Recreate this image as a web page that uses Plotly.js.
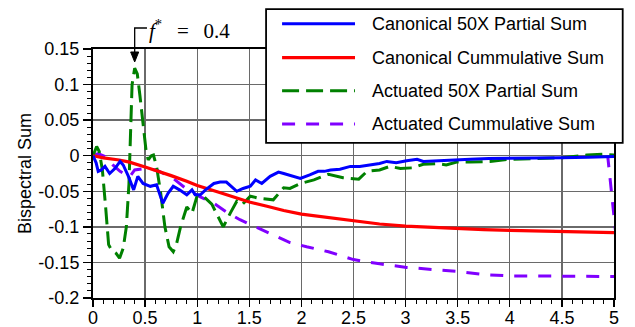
<!DOCTYPE html>
<html>
<head>
<meta charset="utf-8">
<script src="https://cdn.plot.ly/plotly-3.0.1.min.js"></script>
<style>html,body{margin:0;padding:0;background:#fff;}#chart{width:635px;height:327px;}</style>
</head>
<body>
<div id="chart"></div>
<script>
// ---- Data ----
var seriesNames = ['Canonical 50X Partial Sum', 'Canonical Cummulative Sum', 'Actuated 50X Partial Sum', 'Actuated Cummulative Sum'];

var canonPartialX = [0,0.03,0.05,0.08,0.115,0.16,0.21,0.26,0.29,0.34,0.39,0.43,0.48,0.55,0.61,0.67,0.72,0.77,0.83,0.90,0.95,0.98,1.03,1.08,1.16,1.22,1.28,1.33,1.38,1.44,1.51,1.56,1.62,1.70,1.78,1.83,1.88,1.94,1.99,2.08,2.16,2.22,2.28,2.37,2.47,2.56,2.66,2.75,2.82,2.91,3.01,3.11,3.17,3.30,3.39,3.52,3.62,3.80,4.00,4.25,4.50,4.75,5.00];
var canonPartialY = [0,-0.010,-0.022,-0.020,-0.015,-0.025,-0.018,-0.008,-0.013,-0.029,-0.048,-0.029,-0.039,-0.043,-0.041,-0.067,-0.053,-0.043,-0.048,-0.055,-0.048,-0.055,-0.055,-0.048,-0.039,-0.037,-0.037,-0.043,-0.050,-0.046,-0.043,-0.034,-0.039,-0.029,-0.023,-0.025,-0.027,-0.030,-0.032,-0.027,-0.022,-0.022,-0.020,-0.019,-0.015,-0.015,-0.013,-0.011,-0.008,-0.010,-0.007,-0.005,-0.008,-0.007,-0.006,-0.005,-0.005,-0.004,-0.004,-0.003,-0.003,-0.002,-0.001];

var canonCumX = [0,0.1,0.25,0.35,0.5,0.65,0.75,0.9,1.0,1.2,1.35,1.5,1.67,1.83,2.0,2.25,2.5,2.75,3.0,3.25,3.5,3.75,4.0,4.5,5.0];
var canonCumY = [0,-0.003,-0.006,-0.009,-0.016,-0.023,-0.028,-0.036,-0.042,-0.051,-0.058,-0.065,-0.071,-0.077,-0.082,-0.087,-0.092,-0.096,-0.099,-0.101,-0.103,-0.104,-0.105,-0.107,-0.108];

var actPartialX = [0,0.035,0.06,0.09,0.12,0.15,0.18,0.22,0.255,0.29,0.32,0.345,0.36,0.375,0.40,0.425,0.45,0.48,0.51,0.53,0.56,0.58,0.61,0.65,0.69,0.73,0.77,0.80,0.84,0.90,0.95,1.0,1.06,1.14,1.25,1.32,1.38,1.43,1.51,1.60,1.73,1.83,1.89,1.99,2.12,2.26,2.40,2.55,2.63,2.75,2.85,2.95,3.07,3.17,3.30,3.39,3.49,3.62,3.81,4.0,4.25,4.5,4.74,4.9,5.0];
var actPartialY = [0,0.013,0.006,-0.020,-0.070,-0.125,-0.133,-0.137,-0.144,-0.130,-0.100,-0.040,0.030,0.100,0.123,0.115,0.085,0.045,0.006,-0.006,0.000,0.001,-0.015,-0.053,-0.100,-0.128,-0.135,-0.125,-0.100,-0.072,-0.081,-0.056,-0.057,-0.068,-0.100,-0.080,-0.064,-0.069,-0.057,-0.060,-0.062,-0.045,-0.046,-0.039,-0.034,-0.026,-0.031,-0.033,-0.022,-0.020,-0.015,-0.018,-0.017,-0.012,-0.011,-0.013,-0.009,-0.009,-0.008,-0.005,-0.004,-0.003,0.001,0.002,0.001];

var actCumX = [0,0.05,0.115,0.19,0.26,0.31,0.35,0.40,0.49,0.61,0.68,0.77,0.90,1.03,1.16,1.28,1.41,1.57,1.73,1.89,2.05,2.16,2.26,2.50,2.75,3.01,3.25,3.52,3.75,4.0,4.25,4.48,4.75,4.93,5.06,4.94];
var actCumY = [0,0.003,-0.001,-0.013,-0.022,-0.027,-0.030,-0.020,-0.018,-0.020,-0.025,-0.032,-0.047,-0.058,-0.067,-0.079,-0.090,-0.101,-0.111,-0.122,-0.128,-0.132,-0.135,-0.146,-0.152,-0.157,-0.160,-0.163,-0.167,-0.169,-0.169,-0.169,-0.170,-0.170,-0.170,-0.001];

var xTickVals = [0,0.5,1,1.5,2,2.5,3,3.5,4,4.5,5];
var xTickText = ['0','0.5','1','1.5','2','2.5','3','3.5','4','4.5','5'];
var yTickVals = [-0.2,-0.15,-0.1,-0.05,0,0.05,0.1,0.15];
var yTickText = ['-0.2','-0.15','-0.1','-0.05','0','0.05','0.1','0.15'];

var markerX = 0.4;      // f* location (data x)

// ---- Styles ----
var colors = ['#0000ff', '#ff0000', '#008000', '#8000ff'];
var dashes = ['solid', 'solid', '17px,7px', '13px,11px'];
var widths = [3, 3.2, 3, 3];

var xs = [canonPartialX, canonCumX, actPartialX, actCumX];
var ys = [canonPartialY, canonCumY, actPartialY, actCumY];
var order = [3, 2, 1, 0];
var traces = order.map(function (i) {
  return {
    x: xs[i], y: ys[i], name: seriesNames[i], type: 'scatter', mode: 'lines',
    line: {color: colors[i], width: widths[i], dash: dashes[i]},
    showlegend: false
  };
});

var FONT = 'Liberation Sans, Arial, Helvetica, sans-serif';

// Legend built as shapes + text
var legX0 = 0.3322, legX1 = 1.0167, legY0 = 0.6229, legY1 = 1.1604;
var rowY = [1.1011, 0.9651, 0.8327, 0.6990];
var shapes = [{
  type: 'rect', xref: 'paper', yref: 'paper', x0: legX0, x1: legX1, y0: legY0, y1: legY1,
  fillcolor: '#ffffff', line: {color: '#000', width: 1.8}, layer: 'above'
}];
var annotations = [];
for (var k = 0; k < 4; k++) {
  shapes.push({type: 'line', xref: 'paper', yref: 'paper', x0: 0.3629, x1: 0.5029, y0: rowY[k], y1: rowY[k],
    line: {color: colors[k], width: widths[k], dash: dashes[k]}, layer: 'above'});
  annotations.push({xref: 'paper', yref: 'paper', x: 0.5316, y: rowY[k], xanchor: 'left', yanchor: 'middle',
    text: seriesNames[k], showarrow: false, font: {family: FONT, size: 18, color: '#000'}});
}
// f* marker: bent connector + arrowhead (paper coordinates)
var ax0 = markerX / 5, hookX = 0.1036, hookY = 1.0843, headBase = 0.988, tipY = 0.9478, hw = 0.0077;
shapes.push({type: 'path', xref: 'paper', yref: 'paper',
  path: 'M ' + hookX + ' ' + hookY + ' L ' + ax0 + ' ' + hookY + ' L ' + ax0 + ' ' + headBase,
  line: {color: '#000', width: 1.3}, layer: 'above'});
shapes.push({type: 'path', xref: 'paper', yref: 'paper',
  path: 'M ' + (ax0 - hw) + ' ' + headBase + ' L ' + (ax0 + hw) + ' ' + headBase + ' L ' + ax0 + ' ' + tipY + ' Z',
  fillcolor: '#000', line: {color: '#000', width: 1}, layer: 'above'});
annotations.push({xref: 'paper', yref: 'paper', x: hookX, y: 1.078, xanchor: 'left', yanchor: 'middle',
  text: '<i>f</i><sup>*</sup>\u2009\u2002=\u2002\u20090.4', showarrow: false,
  font: {family: 'Liberation Serif, Times New Roman, serif', size: 21, color: '#000'}});

var layout = {
  width: 635, height: 327,
  margin: {l: 93, r: 21, t: 49, b: 29},
  paper_bgcolor: '#fff', plot_bgcolor: '#fff',
  font: {family: FONT, size: 18, color: '#000'},
  xaxis: {
    range: [0, 5], tickmode: 'array', tickvals: xTickVals, ticktext: xTickText,
    ticks: 'outside', ticklen: 7, tickwidth: 1.3, tickcolor: '#000',
    ticklabelstandoff: -5,
    showline: true, linecolor: '#000', linewidth: 2, mirror: true,
    showgrid: true, gridcolor: '#6a6a6a', gridwidth: 1.4, zeroline: false,
    tickfont: {family: FONT, size: 18, color: '#000'},
    minor: {tickmode: 'linear', tick0: 0, dtick: 0.1, ticks: 'outside', ticklen: 4, tickwidth: 1, tickcolor: '#000', showgrid: false},
    automargin: false
  },
  yaxis: {
    range: [-0.2, 0.15], tickmode: 'array', tickvals: yTickVals, ticktext: yTickText,
    ticks: 'outside', ticklen: 8, tickwidth: 1.3, tickcolor: '#000',
    showline: true, linecolor: '#000', linewidth: 2, mirror: true,
    showgrid: true, gridcolor: '#6a6a6a', gridwidth: 1.4, zeroline: false,
    tickfont: {family: FONT, size: 18, color: '#000'},
    minor: {tickmode: 'linear', tick0: 0, dtick: 0.01, ticks: 'outside', ticklen: 4, tickwidth: 1, tickcolor: '#000', showgrid: false},
    title: {text: 'Bispectral Sum', font: {family: FONT, size: 18, color: '#000'}, standoff: 2},
    automargin: false
  },
  shapes: shapes,
  annotations: annotations,
  showlegend: false
};

Plotly.newPlot('chart', traces, layout, {staticPlot: true, displayModeBar: false});
</script>
</body>
</html>
